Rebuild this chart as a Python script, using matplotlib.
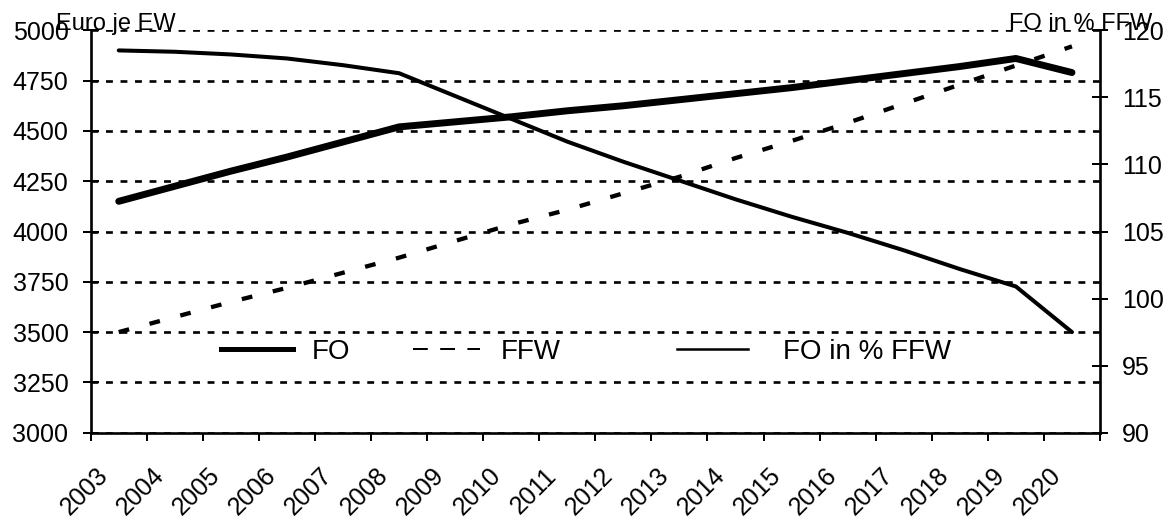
import numpy as np
import matplotlib
matplotlib.use("Agg")
import matplotlib.pyplot as plt
from matplotlib.lines import Line2D
from matplotlib.transforms import ScaledTranslation

plt.rcParams['font.family'] = ['Liberation Sans', 'DejaVu Sans']

# values
years = ['2003', '2004', '2005', '2006', '2007', '2008', '2009', '2010', '2011',
         '2012', '2013', '2014', '2015', '2016', '2017', '2018', '2019', '2020']
fo = [4150, 4225, 4300, 4370, 4445, 4520, 4545, 4570, 4600,
      4625, 4655, 4685, 4715, 4750, 4785, 4820, 4860, 4790]
ffw = [3500, 3575, 3650, 3720, 3795, 3870, 3953, 4035, 4108,
       4190, 4272, 4365, 4450, 4540, 4635, 4730, 4825, 4920]
fo_pct = [118.5, 118.4, 118.2, 117.9, 117.4, 116.8, 115.1, 113.4, 111.7,
          110.2, 108.8, 107.4, 106.1, 104.9, 103.6, 102.2, 100.9, 97.5]

W, H = 1171, 520
fig = plt.figure(figsize=(W / 100, H / 100), dpi=100)
ax = fig.add_axes([90.7 / W, 87.3 / H, (1100 - 90.7) / W, (432.7 - 30.3) / H])
ax2 = ax.twinx()

x = np.arange(len(years))

# left axis: FO and FFW
ax.plot(x, fo, color='black', lw=5.0, solid_capstyle='round', solid_joinstyle='round', zorder=3)
ax.plot(x, ffw, color='black', lw=3.1, linestyle=(0, (2.5, 4.9)), dash_capstyle='butt', zorder=3)
ax.set_ylim(3000, 5000)
ax.set_yticks(np.arange(3000, 5001, 250))
ax.set_xlim(-0.5, len(years) - 0.5)
ax.grid(axis='y', color='black', linestyle=(0, (2.6, 2.9)), linewidth=1.9)
ax.set_axisbelow(True)

# right axis: FO in % FFW
ax2.plot(x, fo_pct, color='black', lw=2.9, solid_capstyle='round', solid_joinstyle='round')
ax2.set_ylim(90, 120)
ax2.set_yticks(np.arange(90, 121, 5))

for a in (ax, ax2):
    a.spines['top'].set_visible(False)
    for s in a.spines.values():
        s.set_linewidth(1.9)
ax.spines['right'].set_visible(False)
ax2.spines['left'].set_visible(False)
ax2.spines['bottom'].set_visible(False)

ax.tick_params(axis='y', direction='inout', length=12, width=1.44, labelsize=18, pad=10)
ax2.tick_params(axis='y', direction='inout', length=12, width=1.44, labelsize=18, pad=10)

# category ticks at boundaries, labels at centres
ax.set_xticks(x)
ax.set_xticklabels(years, rotation=45, ha='right', va='top', rotation_mode='anchor', fontsize=18)
ax.set_xticks(np.arange(-0.5, len(years), 1.0), minor=True)
ax.tick_params(axis='x', which='major', length=0, pad=22)
ax.tick_params(axis='x', which='minor', direction='out', length=5.5, width=1.44)
shift = ScaledTranslation(-23 / 100, 0, fig.dpi_scale_trans)
for lab in ax.get_xticklabels():
    lab.set_transform(lab.get_transform() + shift)

# axis titles
fig.text(116 / W, 1 - 30 / H, 'Euro je EW', ha='center', va='baseline', fontsize=17)
fig.text(1081 / W, 1 - 30 / H, 'FO in % FFW', ha='center', va='baseline', fontsize=17)

# legend, three separate entries
handles = [
    (Line2D([], [], color='black', lw=3.6), 'FO', 221, 2.6, 0.68),
    (Line2D([], [], color='black', lw=1.44, linestyle=(0, (7.4, 6.2))), 'FFW', 413, 2.4, 0.75),
    (Line2D([], [], color='black', lw=1.8), 'FO in % FFW', 677, 2.57, 1.25),
]
for h, lab, x0, hl, tp in handles:
    leg = fig.legend([h], [lab], loc='center left', bbox_to_anchor=(x0 / W, 1 - 352 / H),
                     bbox_transform=fig.transFigure, frameon=False, fontsize=20,
                     handlelength=hl, handletextpad=tp, borderpad=0, borderaxespad=0)

fig.savefig('out.png', dpi=100)
